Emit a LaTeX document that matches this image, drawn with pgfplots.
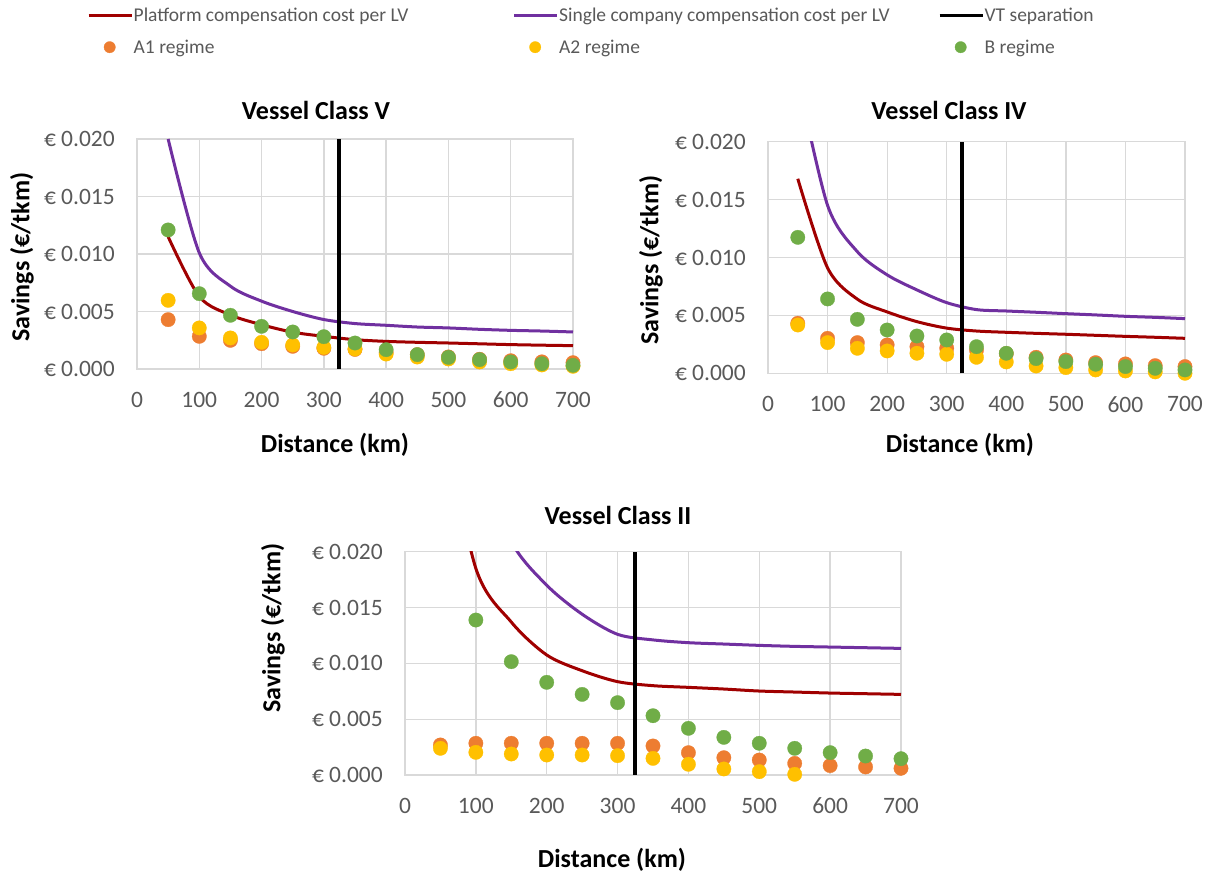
\documentclass[border=0pt]{standalone}
\usepackage{fontspec}
\setmainfont{Carlito}
\usepackage{pgfplots}
\pgfplotsset{compat=1.18}
\usepackage{pgfplotstable}
\definecolor{cred}{HTML}{A00000}
\definecolor{cpurple}{HTML}{7030A0}
\definecolor{corange}{HTML}{ED7D31}
\definecolor{cyellow}{HTML}{FFC000}
\definecolor{cgreen}{HTML}{70AD47}
\definecolor{gridc}{HTML}{D9D9D9}
\definecolor{tickc}{HTML}{595959}
\newcommand\ticfont{\fontsize{23.5}{28}\selectfont}
\newcommand\titfont{\fontsize{26}{31}\selectfont\bfseries}
\newcommand\legfont{\fontsize{19.5}{23}\selectfont}

\pgfplotstableread{
d plat single a1 a2 b
50 0.0115 0.0200 0.00429 0.00597 0.01209
100 0.0063 0.0101 0.00284 0.00357 0.00655
150 0.0047 0.0072 0.00249 0.00270 0.00467
200 0.00385 0.0059 0.00220 0.00232 0.00371
250 0.0032 0.0050 0.00197 0.00209 0.00322
300 0.00284 0.0043 0.00180 0.00188 0.00281
350 0.00255 0.00395 0.00170 0.00174 0.00226
400 0.0024 0.0038 0.00145 0.00130 0.00168
450 0.00232 0.00365 0.00125 0.00104 0.00125
500 0.00226 0.00357 0.00105 0.00087 0.00101
550 0.00219 0.00345 0.00085 0.00061 0.00081
600 0.00212 0.00336 0.00072 0.00046 0.00061
650 0.00207 0.00330 0.00062 0.00035 0.00046
700 0.00203 0.00322 0.00055 0.00023 0.00032
}\tblV

\pgfplotstableread{
d plat single a1 a2 b
50 0.0168 0.0255 0.00432 0.00417 0.01174
100 0.0091 0.0145 0.00302 0.00265 0.00642
150 0.0064 0.0105 0.00265 0.00216 0.00466
200 0.0053 0.0085 0.00245 0.00193 0.00374
250 0.00446 0.0072 0.00230 0.00173 0.00322
300 0.0039 0.0061 0.00216 0.00164 0.00288
350 0.00365 0.0055 0.00200 0.00138 0.00230
400 0.00354 0.00538 0.00170 0.00098 0.00173
450 0.00345 0.00527 0.00138 0.00063 0.00127
500 0.00337 0.00515 0.00115 0.00049 0.00101
550 0.00328 0.00504 0.00092 0.00029 0.00078
600 0.00319 0.00492 0.00081 0.00020 0.00058
650 0.00311 0.00483 0.00066 0.00012 0.00043
700 0.00302 0.00472 0.00058 0.00000 0.00029
}\tblIV

\pgfplotstableread{
d plat single a1 a2 b
50 0.0330 0.0500 0.00269 0.00239 nan
100 0.0185 0.0290 0.00284 0.00203 0.01388
150 0.0137 0.0209 0.00284 0.00188 0.01015
200 0.01075 0.0170 0.00284 0.00179 0.00830
250 0.00934 0.0144 0.00284 0.00179 0.00722
300 0.00836 0.0126 0.00284 0.00173 0.00648
350 0.0080 0.0121 0.00260 0.00149 0.00531
400 0.00785 0.01185 0.00200 0.00096 0.00418
450 0.00770 0.01173 0.00155 0.00054 0.00337
500 0.00752 0.01161 0.00134 0.00030 0.00284
550 0.00743 0.01152 0.00104 0.00006 0.00239
600 0.00734 0.01146 0.00084 nan 0.00200
650 0.00728 0.01140 0.00072 nan 0.00170
700 0.00722 0.01134 0.00060 nan 0.00146
}\tblII

\pgfplotsset{
  panel/.style={
    scale only axis, anchor=south west,
    xmin=0, xmax=700, ymin=0, ymax=0.02,
    xtick={0,100,...,700}, xticklabels={0,100,200,300,400,500,600,700},
    ytick={0,0.005,0.01,0.015,0.02},
    yticklabels={€ 0.000,€ 0.005,€ 0.010,€ 0.015,€ 0.020},
    scaled y ticks=false, scaled x ticks=false,
    grid=major, major grid style={color=gridc, line width=1.3pt},
    axis line style={color=gridc, line width=1.3pt},
    major tick length=0pt, tick style={draw=none},
    clip mode=individual,
    yticklabel style={font=\ticfont, text=tickc, inner sep=0pt, anchor=east, xshift=-22pt},
    xticklabel style={font=\ticfont, text=tickc, inner sep=0pt, anchor=center, yshift=-31pt},
  },
  redl/.style={cred, line width=3pt, smooth, no markers},
  purl/.style={cpurple, line width=3pt, smooth, no markers},
  vtl/.style={black, line width=4pt, no markers},
  dots/.style={only marks, mark=*, mark size=7.2pt, mark options={fill=#1, draw=#1, line width=0.3pt}},
  lineleg/.style={legend image code/.code={\draw[##1, line width=3pt] (0pt,0pt) -- (43pt,0pt); \path[draw=none] (45pt,0pt) circle (0pt);}},
  dotleg/.style={legend image code/.code={\path[draw=none, fill=none] (0pt,-1pt) rectangle (45pt,1pt); \draw[##1, only marks, mark size=5.7pt] plot coordinates {(21pt,0pt)};}},
}

\begin{document}
\begin{tikzpicture}
\path[use as bounding box] (0pt,0pt) rectangle (1210pt,875pt);

% Panel V
\begin{axis}[panel, at={(137pt,506pt)}, width=436pt, height=230pt,
  legend columns=3, legend cell align=left,
  legend style={at={(-0.1147,1.5717)}, anchor=north west, draw=none, fill=none,
    inner sep=0pt, column sep=0pt, row sep=17pt, font=\legfont, text=tickc,
    nodes={inner sep=0pt}}]
\addplot[redl, lineleg] table[x=d,y=plat]{\tblV};
\addlegendentry{\makebox[379pt][l]{Platform compensation cost per LV}}
\addplot[purl, lineleg] table[x=d,y=single]{\tblV};
\addlegendentry{\makebox[379pt][l]{Single company compensation cost per LV}}
\addplot[vtl, lineleg] coordinates {(325,0) (325,0.02)};
\addlegendentry{\makebox[379pt][l]{VT separation}}
\addplot[dots=corange, dotleg] table[x=d,y=a1]{\tblV};
\addlegendentry{\makebox[379pt][l]{A1 regime}}
\addplot[dots=cyellow, dotleg] table[x=d,y=a2]{\tblV};
\addlegendentry{\makebox[379pt][l]{A2 regime}}
\addplot[dots=cgreen, dotleg] table[x=d,y=b]{\tblV};
\addlegendentry{\makebox[379pt][l]{B regime}}
\end{axis}

% Panel IV
\begin{axis}[panel, at={(768pt,501.7pt)}, width=417pt, height=231.6pt]
\addplot[redl] table[x=d,y=plat]{\tblIV};
\addplot[purl] table[x=d,y=single]{\tblIV};
\addplot[vtl] coordinates {(325,0) (325,0.02)};
\addplot[dots=corange] table[x=d,y=a1]{\tblIV};
\addplot[dots=cyellow] table[x=d,y=a2]{\tblIV};
\addplot[dots=cgreen] table[x=d,y=b]{\tblIV};
\end{axis}

% Panel II
\begin{axis}[panel, at={(405pt,100pt)}, width=496pt, height=223.3pt]
\addplot[redl] table[x=d,y=plat]{\tblII};
\addplot[purl] table[x=d,y=single]{\tblII};
\addplot[vtl] coordinates {(325,0) (325,0.02)};
\addplot[dots=corange] table[x=d,y=a1]{\tblII};
\addplot[dots=cyellow] table[x=d,y=a2]{\tblII};
\addplot[dots=cgreen] table[x=d,y=b]{\tblII};
\end{axis}

\node[font=\titfont] at (316pt,765pt) {Vessel Class V};
\node[font=\titfont] at (949pt,765pt) {Vessel Class IV};
\node[font=\titfont] at (618pt,360pt) {Vessel Class II};
\node[font=\titfont] at (335pt,430pt) {Distance (km)};
\node[font=\titfont] at (960pt,430pt) {Distance (km)};
\node[font=\titfont] at (612pt,15pt) {Distance (km)};
\node[font=\titfont, rotate=90] at (22pt,618pt) {Savings (€/tkm)};
\node[font=\titfont, rotate=90] at (651pt,615pt) {Savings (€/tkm)};
\node[font=\titfont, rotate=90] at (273pt,247pt) {Savings (€/tkm)};
\end{tikzpicture}
\end{document}
